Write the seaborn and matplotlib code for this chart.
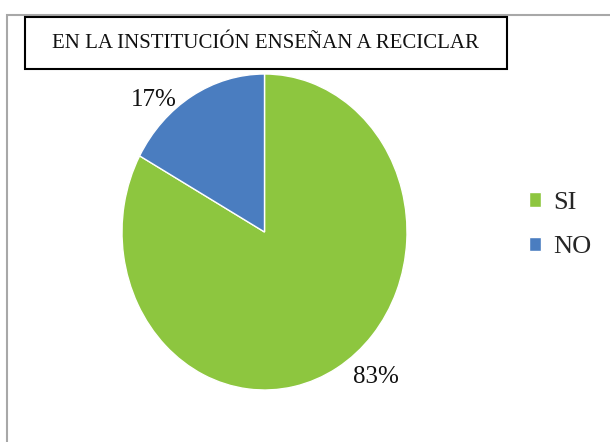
import matplotlib
matplotlib.use("Agg")
import matplotlib.pyplot as plt
import seaborn as sns
from matplotlib.patches import Rectangle

# data
labels = ["SI", "NO"]
values = [83, 17]
colors = ["#8DC63F", "#4A7DC0"]
title = "EN LA INSTITUCIÓN ENSEÑAN A RECICLAR"

sns.set_theme(style="white")
plt.rcParams["font.family"] = ["Liberation Serif", "DejaVu Serif"]

fig = plt.figure(figsize=(6.10, 4.42), dpi=100)
fig.patch.set_facecolor("white")

# outer chart frame (light gray, runs off the right and bottom edges)
fig.patches.append(Rectangle((7 / 610, -0.05), 1.1, (442 - 15) / 442 + 0.05,
                             transform=fig.transFigure, fill=False,
                             edgecolor="#a8a8a8", linewidth=1.5))

# title box
fig.patches.append(Rectangle((25 / 610, (442 - 69) / 442), (507 - 25) / 610, 52 / 442,
                             transform=fig.transFigure, fill=False,
                             edgecolor="black", linewidth=1.5))
fig.text(265 / 610, (442 - 44) / 442, title, ha="center", va="center",
         fontsize=15, color="#111111")

# pie (slightly stretched vertically like the scanned original)
ax = fig.add_axes([122 / 610, (442 - 390) / 442, 285 / 610, 316 / 442])
wedges, texts, autotexts = ax.pie(values, colors=colors, startangle=90,
                                  counterclock=False, autopct="%1.0f%%",
                                  pctdistance=1.5,
                                  textprops={"fontsize": 18, "color": "#111111"})
ax.set_aspect("auto")
ax.set_xlim(-1, 1)
ax.set_ylim(-1, 1)
ax.axis("off")

autotexts[0].set_position((0.78, -0.92))
autotexts[1].set_position((-0.78, 0.835))
for t in autotexts:
    t.set_clip_on(False)

leg = fig.legend(wedges, labels, loc="upper left",
                 bbox_to_anchor=(505 / 610, (442 - 168) / 442),
                 frameon=False, fontsize=19, handlelength=0.48,
                 handleheight=0.48, handletextpad=0.45, labelspacing=0.86)

fig.savefig("out.png", dpi=100, facecolor="white")
